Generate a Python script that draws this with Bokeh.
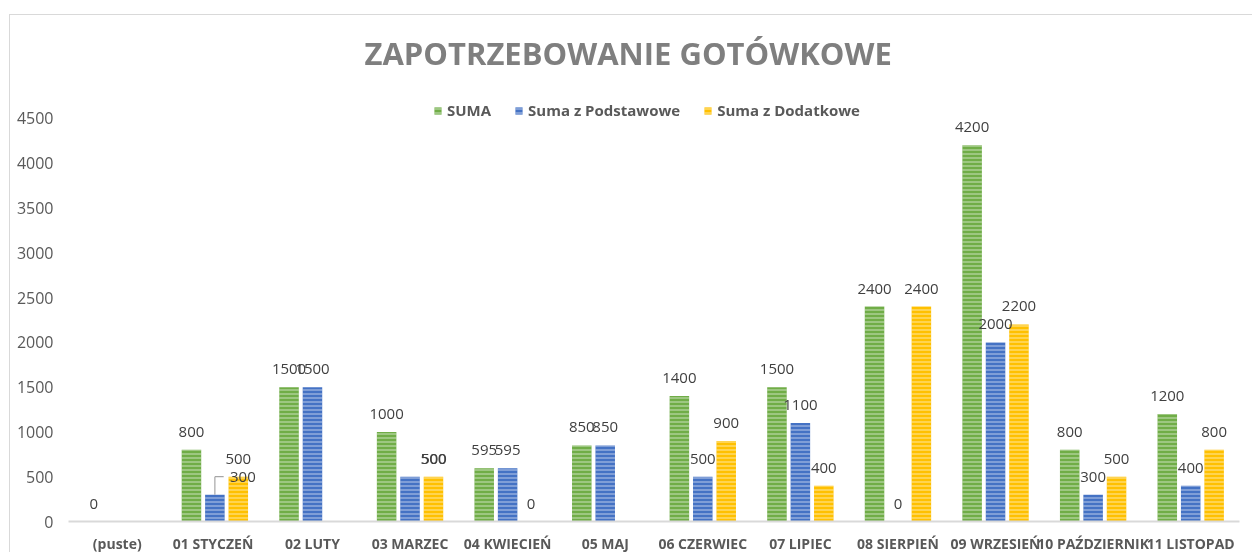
import math
from bokeh.plotting import figure
from bokeh.models import (ColumnDataSource, FactorRange, Range1d, FixedTicker,
                          Legend, LegendItem, Title)
from bokeh.transform import dodge
from bokeh.core.properties import value
from bokeh.embed import file_html
from bokeh.resources import INLINE

# ---------------- data ----------------
categories = ["(puste)", "01  STYCZEŃ", "02 LUTY", "03 MARZEC", "04 KWIECIEŃ",
              "05 MAJ", "06 CZERWIEC", "07 LIPIEC", "08 SIERPIEŃ",
              "09 WRZESIEŃ", "10 PAŹDZIERNIK", "11 LISTOPAD"]
suma = [0, 800, 1500, 1000, 595, 850, 1400, 1500, 2400, 4200, 800, 1200]
suma_podstawowe = [None, 300, 1500, 500, 595, 850, 500, 1100, 0, 2000, 300, 400]
suma_dodatkowe = [None, 500, None, 500, 0, None, 900, 400, 2400, 2200, 500, 800]
series_names = ["SUMA", "Suma z Podstawowe", "Suma z Dodatkowe"]
y_ticks = [0, 500, 1000, 1500, 2000, 2500, 3000, 3500, 4000, 4500]
title_text = "ZAPOTRZEBOWANIE GOTÓWKOWE"

# ---------------- styles ----------------
colors = ["#70AD47", "#4472C4", "#FFC000"]
offsets = [-0.24, 0.0, 0.24]
bar_w = 0.2
FONT = "Open Sans"

p = figure(x_range=FactorRange(*categories, range_padding=0),
           y_range=Range1d(0, 4846),
           width=1243, height=540,
           output_backend="svg", toolbar_location=None,
           min_border_left=58, min_border_right=14,
           min_border_top=60, min_border_bottom=34)
p.styles = {"position": "fixed", "top": "14px", "left": "9px",
            "border-top": "1px solid #d9d9d9", "border-left": "1px solid #d9d9d9"}

p.outline_line_color = None
p.xgrid.grid_line_color = None
p.ygrid.grid_line_color = None
p.background_fill_color = "white"
p.border_fill_color = "white"

p.title = Title(text=title_text, align="left", offset=296, standoff=28,
                text_font=FONT, text_font_size="31px", text_font_style="bold",
                text_color="#7f7f7f")

# axes
p.yaxis.ticker = FixedTicker(ticks=y_ticks)
p.yaxis.axis_line_color = None
p.yaxis.major_tick_line_color = None
p.yaxis.major_tick_out = 0
p.yaxis.minor_tick_line_color = None
p.yaxis.minor_tick_out = 0
p.yaxis.major_label_standoff = 15
p.yaxis.major_label_text_font = FONT
p.yaxis.major_label_text_font_size = "16px"
p.yaxis.major_label_text_color = "#595959"

p.xaxis.axis_line_color = "#d9d9d9"
p.xaxis.axis_line_width = 2
p.xaxis.major_tick_line_color = None
p.xaxis.major_tick_out = 0
p.xaxis.minor_tick_line_color = None
p.xaxis.minor_tick_out = 0
p.xaxis.major_label_standoff = 12
p.xaxis.major_label_text_font = FONT
p.xaxis.major_label_text_font_size = "14px"
p.xaxis.major_label_text_font_style = "bold"
p.xaxis.major_label_text_color = "#595959"

nan = float("nan")
all_series = [suma, suma_podstawowe, suma_dodatkowe]
items = []
# bars first
for name, vals, col, off in zip(series_names, all_series, colors, offsets):
    tops = [nan if v is None else v for v in vals]
    src = ColumnDataSource(dict(cat=categories, top=tops))
    r = p.vbar(x=dodge("cat", off, range=p.x_range), top="top", width=bar_w,
               source=src, fill_color=col, line_color=None,
               hatch_pattern="horizontal_line", hatch_color="white",
               hatch_alpha=0.42, hatch_scale=4, hatch_weight=1.5)
    items.append(LegendItem(label=name, renderers=[r]))

# leader line for the moved label (01 STYCZEŃ, Suma z Podstawowe)
lead = ColumnDataSource(dict(cat=["01  STYCZEŃ"], y0=[suma_podstawowe[1]],
                             y1=[suma_dodatkowe[1]]))
p.segment(x0=dodge("cat", 0.0, range=p.x_range), y0="y0",
          x1=dodge("cat", 0.0, range=p.x_range), y1="y1",
          source=lead, line_color="#a6a6a6", line_width=1.2)
p.segment(x0=dodge("cat", 0.0, range=p.x_range), y0="y1",
          x1=dodge("cat", 0.09, range=p.x_range), y1="y1",
          source=lead, line_color="#a6a6a6", line_width=1.2)

# data labels on top
for name, vals, off in zip(series_names, all_series, offsets):
    lc, lv, lt, lx = [], [], [], []
    for c, v in zip(categories, vals):
        if v is None:
            continue
        lc.append(c); lv.append(v); lt.append(str(v))
        xo = 0
        if name == "Suma z Podstawowe" and c == "01  STYCZEŃ":
            xo = 28
        if name == "Suma z Podstawowe" and c == "03 MARZEC":
            xo = 24
        lx.append(xo)
    lsrc = ColumnDataSource(dict(cat=lc, y=lv, text=lt, xo=lx))
    p.text(x=dodge("cat", off, range=p.x_range), y="y", text="text",
           source=lsrc, text_font=value(FONT), text_font_size="15px",
           text_color="#404040",
           text_align="center", text_baseline="alphabetic",
           x_offset="xo", y_offset=-18)

legend = Legend(items=items, orientation="horizontal", location=(365, 401),
                border_line_color=None, background_fill_alpha=0,
                padding=0, margin=0, spacing=23, label_standoff=5,
                glyph_width=9, glyph_height=9, label_height=20,
                label_text_font=FONT, label_text_font_size="15px",
                label_text_font_style="bold", label_text_color="#595959")
p.add_layout(legend)

open("out.html", "w").write(file_html(p, INLINE))
